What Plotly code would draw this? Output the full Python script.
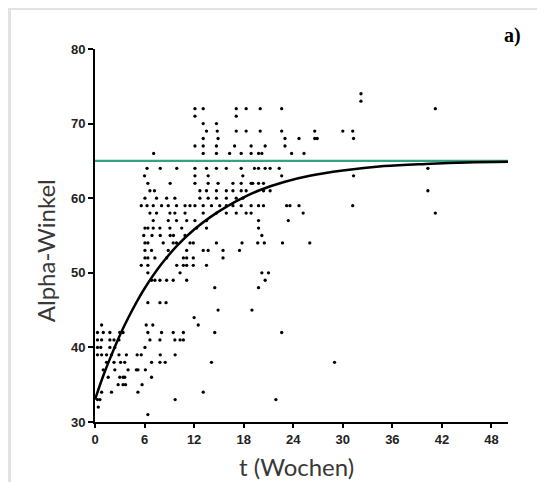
import plotly.graph_objects as go

# Einzelwerte: Zeit in Wochen und Alpha-Winkel
woche = [
    32.2,
    32.2,
    12.1, 13.1, 17.1, 18.3, 20.0, 22.6, 41.2,
    12.1, 17.1,
    13.1, 14.7,
    13.5, 14.8, 17.1, 18.3, 20.0, 22.6, 26.6, 30.0, 31.2,
    13.1, 14.9, 23.0, 24.7, 26.6, 26.9, 31.3,
    12.1, 13.1, 14.7, 16.9, 18.9, 20.6, 23.0,
    7.1, 13.1, 14.7, 16.3, 17.7, 18.9, 19.8, 20.2, 23.8, 25.3,
    6.3, 7.9, 9.9, 12.1, 13.5, 14.7, 15.9, 17.7, 19.3, 19.8, 20.6, 21.2, 22.3, 40.3,
    6.0, 12.1, 13.7, 17.9, 22.6, 31.3,
    6.4, 9.1, 12.1, 13.7, 14.9, 16.7, 17.7, 18.9, 19.1, 19.8, 20.4,
    6.65, 7.2, 12.7, 13.5, 14.7, 15.9, 16.7, 17.7, 18.3, 20.4, 21.2, 40.3,
    6.05, 7.45, 8.67, 9.67, 12.7, 13.7, 14.7, 15.9, 17.1, 17.9,
    5.6, 6.3, 7.05, 8.06, 8.87, 9.87, 10.9, 11.5, 12.1, 13.1, 14.1, 15.1, 15.9, 16.7,
    17.7, 18.9, 19.8, 20.4, 23.2, 23.6, 24.7, 31.2,
    6.65, 7.45, 9.07, 9.67, 10.9, 13.1, 14.7, 15.9, 17.1, 18.3, 18.9, 25.2, 41.2,
    7.05, 8.87, 9.87, 11.1, 12.1, 13.5, 19.8, 23.4,
    6.05, 6.4, 7.05, 7.86, 9.07, 10.5, 12.3, 13.5, 19.8,
    5.9, 6.9, 7.9, 9.1, 9.5, 10.9, 20.2,
    6.05, 6.4, 8.26, 9.47, 9.87, 11.5, 11.9, 14.7, 17.8, 19.7, 20.5, 22.7, 26.0,
    6.05, 6.85, 8.87, 11.1, 13.1, 13.7, 15.5, 17.5,
    6.05, 6.4, 7.25, 8.67, 10.7, 11.1, 11.9, 15.5,
    5.6, 6.4, 9.9, 10.7, 11.1, 11.9, 13.5,
    6.4, 10.3, 20.2, 21.0,
    6.85, 7.25, 7.86, 8.67, 9.47, 11.1, 20.6,
    14.5, 19.8,
    6.4, 7.86, 8.6,
    14.9, 19.0,
    12.0,
    0.8, 6.2, 7.0, 12.5,
    0.3, 1.0, 1.8, 3.0, 3.4, 6.4, 8.06, 9.47, 10.7, 14.5, 22.6,
    0.3, 0.8, 1.8, 2.3, 2.9, 6.65, 7.86, 9.67, 10.3, 10.7,
    0.3, 0.7, 1.8, 2.4, 6.05,
    0.3, 0.8, 1.4, 2.0, 2.9, 3.8, 5.1, 5.6, 7.9, 9.7,
    1.4, 2.3, 3.1, 3.6, 6.85, 7.86, 8.5, 14.1, 29.0,
    1.0, 2.4, 4.0, 5.0, 5.2, 6.1,
    1.6, 3.0, 3.4, 3.6, 6.85,
    2.8, 3.4, 3.7, 5.7,
    0.8, 2.0, 5.2, 13.1,
    0.3, 0.6, 9.7, 21.9,
    0.4,
    6.4,
]
winkel = (
    [74] * 1 + [73] * 1 + [72] * 7 + [71] * 2 + [70] * 2 + [69] * 9 + [68] * 7
    + [67] * 7 + [66] * 10 + [64] * 14 + [63] * 6 + [62] * 11 + [61] * 12
    + [60] * 10 + [59] * 22 + [58] * 13 + [57] * 8 + [56] * 9 + [55] * 7
    + [54] * 13 + [53] * 8 + [52] * 8 + [51] * 7 + [50] * 4 + [49] * 7
    + [48] * 2 + [46] * 3 + [45] * 2 + [44] * 1 + [43] * 4 + [42] * 11
    + [41] * 10 + [40] * 5 + [39] * 10 + [38] * 9 + [37] * 6 + [36] * 5
    + [35] * 4 + [34] * 4 + [33] * 4 + [32] * 1 + [31] * 1
)

# Angepasste Kurve
kurve_t = [0, 1, 2, 3, 4, 5, 6, 8, 10, 12, 14, 16, 18, 20, 23, 26, 30, 35, 40, 45, 50]
kurve_w = [33.0, 36.2, 39.0, 41.6, 43.9, 46.0, 47.9, 51.1, 53.7, 55.8, 57.5, 58.9,
           60.1, 61.1, 62.2, 63.0, 63.7, 64.3, 64.6, 64.8, 64.9]

# Plateau
plateau_t = [0, 50]
plateau_w = [65, 65]

x_ticks = [0, 6, 12, 18, 24, 30, 36, 42, 48]
y_ticks = [30, 40, 50, 60, 70, 80]

fig = go.Figure()

fig.add_trace(go.Scatter(x=woche, y=winkel, mode="markers",
                         marker=dict(color="black", size=3.3), showlegend=False))
fig.add_trace(go.Scatter(x=plateau_t, y=plateau_w, mode="lines",
                         line=dict(color="#34a084", width=2.2), showlegend=False))
fig.add_trace(go.Scatter(x=kurve_t, y=kurve_w, mode="lines", line_shape="spline",
                         line=dict(color="black", width=2.5), showlegend=False))

tickfont = dict(family="Liberation Sans Narrow, Liberation Sans, Arial", size=13,
                color="#222222", weight="bold")

# Seite hat 8px Rand, daher etwas kleinere Figur
fig.update_layout(
    width=537, height=474,
    margin=dict(l=87, r=37, t=41, b=60),
    paper_bgcolor="white", plot_bgcolor="white",
    xaxis=dict(range=[0, 50], tickvals=x_ticks, showgrid=False, zeroline=False,
               showline=True, linecolor="black", linewidth=2, ticks="outside",
               ticklen=4, tickwidth=1.5, tickcolor="black", tickfont=tickfont),
    yaxis=dict(range=[30, 80], tickvals=y_ticks, showgrid=False, zeroline=False,
               showline=True, linecolor="black", linewidth=2, ticks="outside",
               ticklen=5, tickwidth=1.5, tickcolor="black", tickfont=tickfont),
    font=dict(family="Lato, Open Sans, sans-serif"),
)

# grauer Rahmen oben und links
fig.add_shape(type="rect", xref="paper", yref="paper", x0=-0.22, x1=1.1, y0=1.1046, y1=1.12,
              fillcolor="#e2e2e2", line_width=0, layer="below")
fig.add_shape(type="rect", xref="paper", yref="paper", x0=-0.22, x1=-0.2034, y0=-0.17, y1=1.12,
              fillcolor="#e2e2e2", line_width=0, layer="below")

fig.add_annotation(text="Alpha-Winkel", xref="paper", yref="paper", x=-0.121, y=0.458,
                   xanchor="center", yanchor="middle",
                   textangle=-90, showarrow=False, font=dict(size=24, color="#383838"))
fig.add_annotation(text="t (Wochen)", xref="paper", yref="paper", x=0.487, y=-0.118,
                   xanchor="center", yanchor="middle",
                   showarrow=False, font=dict(size=24, color="#383838"))
fig.add_annotation(text="<b>a)</b>", xref="paper", yref="paper", x=1.010, y=1.0375,
                   xanchor="center", yanchor="middle", showarrow=False,
                   font=dict(family="Liberation Serif, Times New Roman, serif", size=20,
                             color="black"))

fig.write_html("out.html")
